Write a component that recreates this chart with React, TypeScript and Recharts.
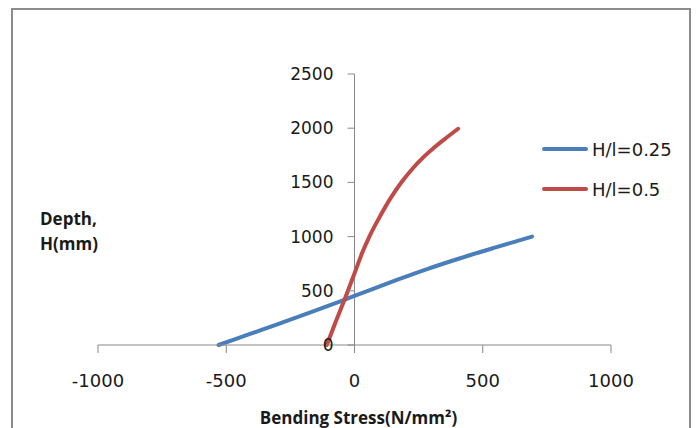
import React from "react";
import {
  ComposedChart,
  Line,
  XAxis,
  YAxis,
  Scatter,
  ReferenceLine,
} from "recharts";

const xTicks = [-1000, -500, 0, 500, 1000];
const yTicks = [0, 500, 1000, 1500, 2000, 2500];

const blueStress = [-530, -410, -290, -172, -58, 52, 165, 283, 412, 550, 692];
const blueDepth = [0, 100, 200, 300, 400, 500, 600, 700, 800, 900, 1000];

const redStress = [-108, -74, -37, 0, 30, 58, 100, 142, 186, 231, 272, 312, 357, 404];
const redDepth = [0, 210, 430, 661, 850, 1000, 1190, 1360, 1510, 1640, 1740, 1825, 1910, 1995];

const seriesNames = ["H/l=0.25", "H/l=0.5"];
const seriesColors = ["#4A7EBB", "#BE4B48"];

const blueData = blueStress.map((x, i) => ({ x, h: blueDepth[i] }));
const redData = redStress.map((x, i) => ({ x, h: redDepth[i] }));
const yTickData = yTicks.map((h) => ({ x: 0, h }));

const AXIS = "#888888";
const NUM_FONT = "'DejaVu Sans', sans-serif";

const YTickShape = (props: any) => {
  const { cx, cy, payload } = props;
  return (
    <g>
      <line x1={cx - 7} y1={cy} x2={cx} y2={cy} stroke={AXIS} strokeWidth={1} />
      <text
        x={cx - 21}
        y={cy}
        textAnchor="end"
        dominantBaseline="central"
        fontFamily={NUM_FONT}
        fontSize={17}
        fill="#1a1a1a"
      >
        {payload.h}
      </text>
    </g>
  );
};

function LegendBox() {
  return (
    <div style={{ position: "absolute", left: 542, top: 137 }}>
      {seriesNames.map((name, i) => (
        <div
          key={name}
          style={{
            display: "flex",
            alignItems: "center",
            height: 24,
            marginBottom: 16,
          }}
        >
          <div style={{ width: 46, height: 4, background: seriesColors[i], borderRadius: 2 }} />
          <span
            style={{
              marginLeft: 4,
              fontFamily: NUM_FONT,
              fontSize: 18,
              color: "#1a1a1a",
              whiteSpace: "nowrap",
            }}
          >
            {name}
          </span>
        </div>
      ))}
    </div>
  );
}

export default function App() {
  return (
    <div
      style={{
        position: "absolute",
        left: 0,
        top: 0,
        width: 697,
        height: 428,
        overflow: "hidden",
        background: "#fff",
      }}
    >
      <div
        style={{
          position: "absolute",
          left: 11,
          top: 8,
          width: 676,
          height: 460,
          border: "2px solid #8c8c8c",
        }}
      />
      <div
        style={{
          position: "absolute",
          left: 40,
          top: 206,
          fontFamily: "'Open Sans', sans-serif",
          fontWeight: 700,
          fontSize: 17,
          lineHeight: "25px",
          color: "#1a1a1a",
        }}
      >
        <div>Depth,</div>
        <div>H(mm)</div>
      </div>
      <div style={{ position: "absolute", left: 0, top: 0 }}>
        <ComposedChart
          width={697}
          height={428}
          margin={{ top: 74, right: 86, left: 98, bottom: 43 }}
        >
          <XAxis
            type="number"
            dataKey="x"
            domain={[-1000, 1000]}
            ticks={xTicks}
            allowDataOverflow
            stroke={AXIS}
            tickSize={8}
            tickMargin={21}
            height={40}
            tick={{ fontFamily: NUM_FONT, fontSize: 18, fill: "#1a1a1a" }}
            label={{
              value: "Bending Stress(N/mm²)",
              position: "bottom",
              offset: 27,
              dx: 4,
              style: {
                fontFamily: "'Open Sans', sans-serif",
                fontWeight: 700,
                fontSize: 17,
                fill: "#1a1a1a",
              },
            }}
          />
          <YAxis type="number" dataKey="h" domain={[0, 2500]} ticks={yTicks} hide />
          <ReferenceLine x={0} stroke={AXIS} strokeWidth={1} />
          <Line
            data={blueData}
            dataKey="h"
            name={seriesNames[0]}
            type="monotone"
            stroke={seriesColors[0]}
            strokeWidth={4}
            strokeLinecap="round"
            dot={false}
            activeDot={false}
            isAnimationActive={false}
          />
          <Line
            data={redData}
            dataKey="h"
            name={seriesNames[1]}
            type="monotone"
            stroke={seriesColors[1]}
            strokeWidth={4}
            strokeLinecap="round"
            dot={false}
            activeDot={false}
            isAnimationActive={false}
          />
          <Scatter
            data={yTickData}
            dataKey="h"
            name="yticks"
            legendType="none"
            shape={YTickShape}
            isAnimationActive={false}
          />
        </ComposedChart>
      </div>
      <LegendBox />
    </div>
  );
}
